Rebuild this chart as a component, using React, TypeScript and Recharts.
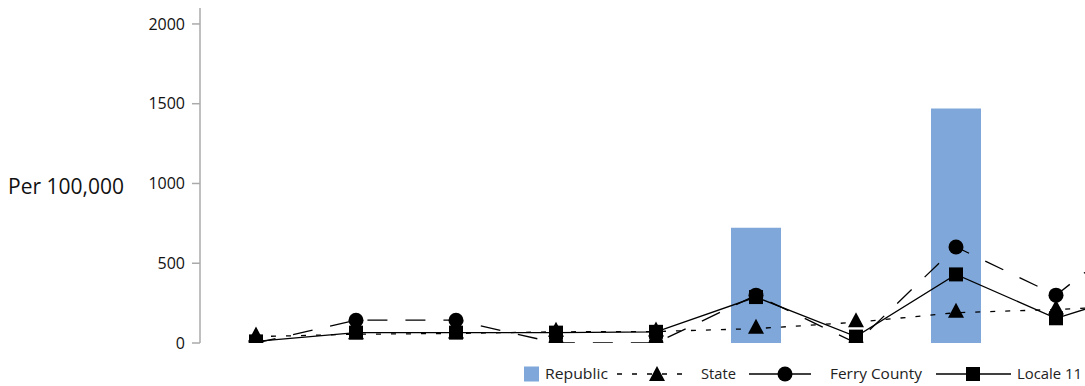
import { Bar, ComposedChart, Legend, Line, XAxis, YAxis } from 'recharts'

const categories = ['1', '2', '3', '4', '5', '6', '7', '8', '9', '10']
const republic = [null, null, null, null, null, 723, null, 1470, null, null]
const state = [40, 55, 60, 70, 72, 90, 130, 190, 210, 240]
const ferryCounty = [0, 143, 143, 0, 0, 300, 0, 602, 300, 790]
const locale11 = [10, 65, 65, 65, 70, 288, 40, 430, 155, 350]
const yTicks = [0, 500, 1000, 1500, 2000]

const BLUE = '#7fa7d9'
const FONT = '"Open Sans", "Noto Sans", sans-serif'

const data = categories.map((name, i) => ({
  name,
  republic: republic[i],
  state: state[i],
  ferry: ferryCounty[i],
  locale: locale11[i]
}))

function TriangleDot(props: any) {
  const { cx, cy } = props
  if (cx == null || cy == null) return null
  return <polygon points={`${cx},${cy - 10} ${cx + 8},${cy + 5} ${cx - 8},${cy + 5}`} fill="#000" />
}

function CircleDot(props: any) {
  const { cx, cy } = props
  if (cx == null || cy == null) return null
  return <circle cx={cx} cy={cy} r={7.5} fill="#000" />
}

function SquareDot(props: any) {
  const { cx, cy } = props
  if (cx == null || cy == null) return null
  return <rect x={cx - 7} y={cy - 7} width={14} height={14} fill="#000" />
}

function ChartLegend() {
  const text = { fontFamily: FONT, fontSize: 15, fill: '#222', lengthAdjust: 'spacingAndGlyphs' as const }
  return (
    <svg width={580} height={22}>
      <rect x={0} y={3.5} width={15} height={15} fill={BLUE} />
      <text x={21} y={16} textLength={63} {...text}>Republic</text>
      <line x1={93} x2={165} y1={11} y2={11} stroke="#000" strokeWidth={1.3} strokeDasharray="5 10" />
      <TriangleDot cx={133} cy={13} />
      <text x={177} y={16} textLength={35} {...text}>State</text>
      <line x1={225} x2={287} y1={11} y2={11} stroke="#000" strokeWidth={1.3} />
      <CircleDot cx={261} cy={11} />
      <text x={306} y={16} textLength={92} {...text}>Ferry County</text>
      <line x1={412} x2={487} y1={11} y2={11} stroke="#000" strokeWidth={1.3} />
      <SquareDot cx={449} cy={11} />
      <text x={493} y={16} textLength={65} {...text}>Locale 11</text>
    </svg>
  )
}

export default function App() {
  return (
    <div
      style={{
        width: 1085,
        height: 386,
        overflow: 'hidden',
        padding: '8px 0 0 8px',
        boxSizing: 'border-box'
      }}
    >
      <style>{'body { margin: 0; }'}</style>
      <ComposedChart
        width={1198}
        height={378}
        data={data}
        margin={{ top: 0, right: 0, bottom: 43, left: 0 }}
      >
        <XAxis dataKey="name" hide padding={{ left: 6, right: 0 }} />
        <YAxis
          width={192}
          domain={[0, 2100]}
          allowDataOverflow
          ticks={yTicks}
          tickSize={8}
          tickMargin={7}
          tick={{ fill: '#111', fontSize: 16, fontFamily: FONT }}
          axisLine={{ stroke: '#aaaaaa', strokeWidth: 1.5 }}
          tickLine={{ stroke: '#aaaaaa', strokeWidth: 1.5 }}
          label={{
            content: (p: any) => (
              <text
                x={p.viewBox.x}
                y={p.viewBox.y + p.viewBox.height / 2 + 10}
                dominantBaseline="central"
                fontSize={21}
                fontFamily={FONT}
                fill="#111"
              >
                Per 100,000
              </text>
            )
          }}
        />
        <Bar dataKey="republic" name="Republic" fill={BLUE} barSize={50} isAnimationActive={false} />
        <Line
          dataKey="state"
          name="State"
          stroke="#000"
          strokeWidth={1.3}
          strokeDasharray="5 10"
          dot={<TriangleDot />}
          activeDot={false}
          isAnimationActive={false}
        />
        <Line
          dataKey="ferry"
          name="Ferry County"
          stroke="#000"
          strokeWidth={1.3}
          strokeDasharray="20 18"
          dot={<CircleDot />}
          activeDot={false}
          isAnimationActive={false}
        />
        <Line
          dataKey="locale"
          name="Locale 11"
          stroke="#000"
          strokeWidth={1.3}
          dot={<SquareDot />}
          activeDot={false}
          isAnimationActive={false}
        />
        <Legend
          layout="horizontal"
          verticalAlign="middle"
          align="center"
          content={<ChartLegend />}
          wrapperStyle={{ left: 516, top: 355, width: 580, height: 22 }}
        />
      </ComposedChart>
    </div>
  )
}
